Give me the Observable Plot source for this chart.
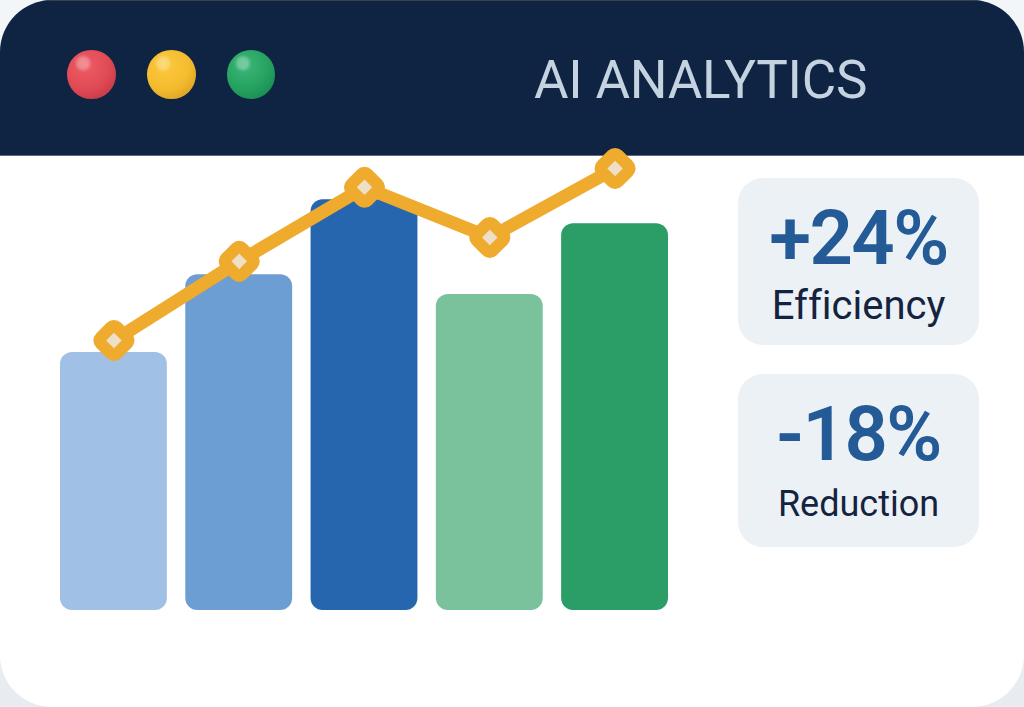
<!DOCTYPE html>
<html lang="en">
<head>
<meta charset="utf-8">
<title>AI Analytics</title>
<script src="https://cdn.jsdelivr.net/npm/d3@7"></script>
<script src="https://cdn.jsdelivr.net/npm/@observablehq/plot@0.6"></script>
<style>
  html, body { margin: 0; padding: 0; width: 1024px; height: 707px; overflow: hidden; background: #fff; }
  #page { position: relative; width: 1024px; height: 707px; overflow: hidden;
          background: linear-gradient(180deg, #f3f6f9 0%, #f3f6f9 50%, #e8ecf1 100%); font-family: Roboto, sans-serif; }
  #window { position: absolute; inset: 0; background: #fff; border-radius: 52px; overflow: hidden; }
  #header { position: absolute; left: 0; top: 0; width: 1024px; background: #0f2342; border-top: 1px solid #3a4150; border-bottom: 1px solid #5d6a80; box-sizing: border-box; height: 156px; }
  #title { position: absolute; left: 534px; top: 47px; margin: 0; font: 400 53px/64px Roboto, sans-serif; letter-spacing: -0.25px; color: #c5d3e1; white-space: nowrap; }
  .light { position: absolute; top: 50px; width: 48.5px; height: 48.5px; border-radius: 50%; }
  .card { position: absolute; left: 738px; width: 241px; background: #ecf1f6; border-radius: 25px; text-align: center; }
  .card .value { position: absolute; left: 0; right: 0; font: 600 76px/70px Roboto, sans-serif; letter-spacing: -1.5px; color: #245a96; }
  .card .label { position: absolute; left: 0; right: 0; font: 400 36px/44px Roboto, sans-serif; color: #14243f; font-variant-ligatures: none; }
  #chart { position: absolute; left: 0; top: 0; }
  #chart svg { display: block; background: transparent; }
</style>
</head>
<body>
<div id="page">
  <div id="window">
    <div id="header"><h1 id="title"></h1></div>
    <div id="lights"></div>
    <div id="cards"></div>
  </div>
  <div id="chart"></div>
</div>
<script>
const categories = ["A", "B", "C", "D", "E"];
const barValues = [56.1, 73, 89.3, 68.7, 84.1];
const lineValues = [58.7, 75.9, 92, 81.1, 96.1];
const barColors = ["#a0c0e6", "#6d9ed3", "#2566ae", "#79c29b", "#2b9d66"];
const lineColor = "#eeab2e";
const markerCore = "#eedfc6";
const titleText = "AI ANALYTICS";
const statValues = ["+24%", "-18%"];
const statLabels = ["Efficiency", "Reduction"];
const lightColors = [
  ["#ee5d66", "#e04a55", "#b5303e"],
  ["#fbc93f", "#f5bb2e", "#cf951f"],
  ["#3cb679", "#25a25f", "#147f4a"]
];

document.getElementById("title").textContent = titleText;

const lights = document.getElementById("lights");
lightColors.forEach((c, i) => {
  const d = document.createElement("div");
  d.className = "light";
  d.style.left = (67.3 + i * 79.7) + "px";
  d.style.background =
    `radial-gradient(circle at 33% 27%, rgba(255,255,255,0.32) 0, rgba(255,255,255,0.28) 5px, rgba(255,255,255,0) 9px),` +
    `radial-gradient(circle at 38% 32%, ${c[0]} 0%, ${c[1]} 52%, ${c[2]} 100%)`;
  lights.appendChild(d);
});

const cardBoxes = [
  {top: 178, height: 167, valueTop: 25, labelTop: 106, labelSize: 40},
  {top: 374, height: 173, valueTop: 25, labelTop: 108, labelSize: 36}
];
const cards = document.getElementById("cards");
statValues.forEach((v, i) => {
  const b = cardBoxes[i];
  const c = document.createElement("div");
  c.className = "card";
  c.style.top = b.top + "px";
  c.style.height = b.height + "px";
  const val = document.createElement("div");
  val.className = "value";
  val.style.top = b.valueTop + "px";
  val.textContent = v;
  const lab = document.createElement("div");
  lab.className = "label";
  lab.style.top = b.labelTop + "px";
  lab.style.fontSize = b.labelSize + "px";
  lab.textContent = statLabels[i];
  c.append(val, lab);
  cards.appendChild(c);
});

const bars = categories.map((c, i) => ({category: c, value: barValues[i]}));
const points = categories.map((c, i) => ({category: c, value: lineValues[i]}));

const chart = Plot.plot({
  width: 1024,
  height: 707,
  marginLeft: 60,
  marginRight: 356,
  marginTop: 150,
  marginBottom: 97,
  style: {background: "transparent", overflow: "visible"},
  x: {type: "band", domain: categories, paddingInner: 0.147, paddingOuter: 0, align: 0.5, round: false, axis: null},
  y: {domain: [0, 100], axis: null},
  color: {type: "ordinal", domain: categories, range: barColors},
  marks: [
    Plot.barY(bars, {x: "category", y: "value", fill: "category", rx: 12, ry: 12}),
    Plot.lineY(points, {x: "category", y: "value", stroke: lineColor, strokeWidth: 13, curve: "linear"}),
    Plot.dot(points, {x: "category", y: "value", symbol: "diamond2", r: 9.5, fill: lineColor, stroke: lineColor, strokeWidth: 20, strokeLinejoin: "round"}),
    Plot.dot(points, {x: "category", y: "value", symbol: "diamond2", r: 7, fill: markerCore})
  ]
});
document.getElementById("chart").appendChild(chart);
</script>
</body>
</html>
